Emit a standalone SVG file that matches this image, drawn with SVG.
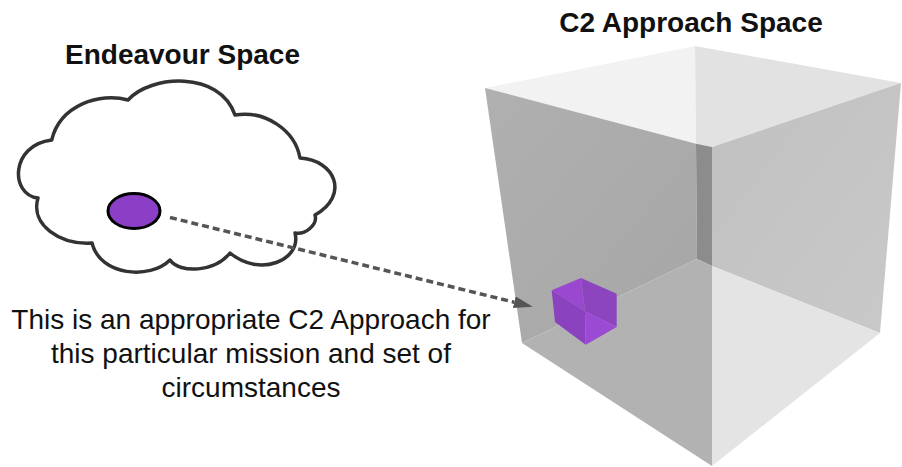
<svg xmlns="http://www.w3.org/2000/svg" width="902" height="467" viewBox="0 0 902 467">
  <defs>
    <style>
      .title { font-family: "Liberation Sans", Arial, sans-serif; font-size: 28px; font-weight: bold; fill: #111; text-anchor: middle; }
      .body { font-family: "Liberation Sans", Arial, sans-serif; font-size: 28px; fill: #111; text-anchor: middle; }
      .cloud { fill: #ffffff; stroke: #333333; stroke-width: 3.5; stroke-linejoin: round; }
      .conn { fill: none; stroke: #555555; stroke-width: 3.5; stroke-dasharray: 7 4; }
    </style>
    <marker id="arrow" markerUnits="userSpaceOnUse" markerWidth="20" markerHeight="14" refX="0" refY="6" orient="auto">
      <path d="M0,0 L19,6 L0,12 z" fill="#555555"/>
    </marker>
    <linearGradient id="gRight" x1="0" y1="0" x2="1" y2="1">
      <stop offset="0" stop-color="#c0c0c0"/>
      <stop offset="1" stop-color="#c9c9c9"/>
    </linearGradient>
    <linearGradient id="gLeft" x1="0" y1="0" x2="1" y2="1">
      <stop offset="0" stop-color="#b0b0b0"/>
      <stop offset="1" stop-color="#a6a6a6"/>
    </linearGradient>
  </defs>
  <rect width="902" height="467" fill="#ffffff"/>

  <g id="endeavour-space">
    <path class="cloud" d="M51.7,140 C60,105 100,92 128,100 C150,75 220,70 235,115 C265,110 295,130 300,158 C335,160 350,195 315,215 C318,225 305,235 295,233 C302,260 260,278 230,253 C215,272 180,274 170,260 C150,280 100,276 92,243 C60,245 30,225 38,198 C10,195 10,145 51.7,140 Z"/>
    <text class="title" x="182.5" y="64">Endeavour Space</text>
  </g>

  <g id="mission-point">
    <ellipse cx="134" cy="211" rx="26" ry="17.5" fill="#8a3fc6" stroke="#000000" stroke-width="3"/>
  </g>

  <g id="c2-approach-space">
    <polygon points="485,88 695,46 696,143.7" fill="#f2f2f2"/>
    <polygon points="695,46 901,83 712,147 696,143.7" fill="#e2e2e2"/>
    <polygon points="485,88 696,143.7 697,259 522,343" fill="url(#gLeft)"/>
    <polygon points="696,143.7 712,147 712,266 697,259" fill="#8c8c8c"/>
    <polygon points="522,343 697,259 712,266 712,466" fill="#b2b2b2"/>
    <polygon points="712,147 901,83 880,333 712,266" fill="url(#gRight)"/>
    <polygon points="712,266 880,333 712,466" fill="#e4e4e4"/>
    <text class="title" x="691" y="32">C2 Approach Space</text>
  </g>

  <g id="appropriate-approach">
    <polygon points="551.7,290.3 581,278 585,311.3" fill="#9a48d0"/>
    <polygon points="551.7,290.3 585,311.3 585.7,344.7 555,322" fill="#8a42bf"/>
    <polygon points="581,278 616.7,293.7 616.7,327 585,311.3" fill="#8c45bf"/>
    <polygon points="585,311.3 616.7,327 585.7,344.7" fill="#9b4ad3"/>
  </g>

  <g id="connectors">
    <line class="conn" x1="170" y1="217.5" x2="514.3" y2="302.2" marker-end="url(#arrow)"/>
  </g>

  <g id="label">
    <text class="body" x="251" y="329">This is an appropriate C2 Approach for</text>
    <text class="body" x="251" y="363">this particular mission and set of</text>
    <text class="body" x="251" y="397">circumstances</text>
  </g>
</svg>
